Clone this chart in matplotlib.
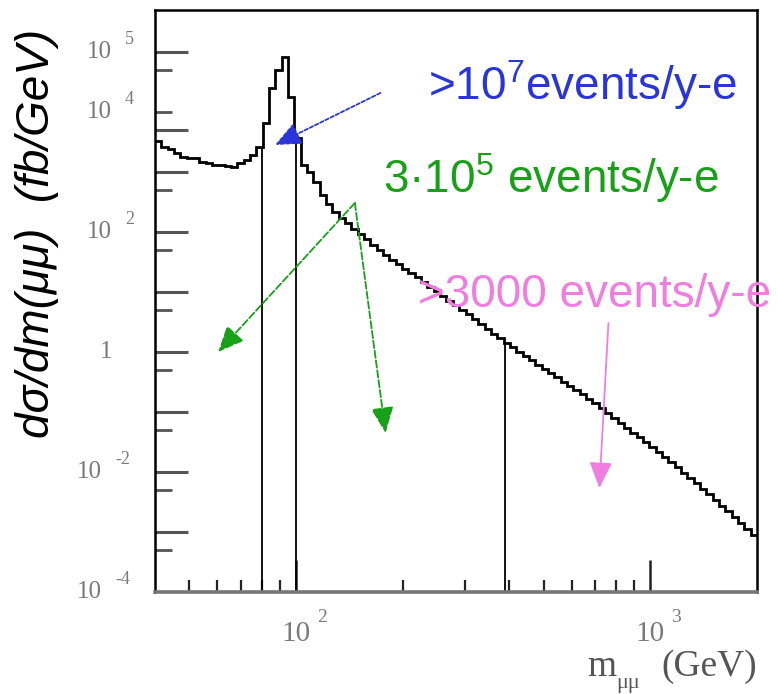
import numpy as np
import matplotlib.pyplot as plt

W, H = 778, 694

# Drell-Yan dimuon mass spectrum, log-binned from 40 to 2000 GeV
mass_lo, mass_hi = 40.0, 2000.0
dsigma = [
    3290, 2610, 2420, 2070, 1780, 1710, 1710, 1470, 1420, 1310, 1310, 1260,
    1210, 1420, 1580, 1920, 2610,
    6560, 25100, 50000, 82500, 17800, 3690,
    1310, 1000, 681, 414, 293, 215, 171, 141, 110, 92.6, 76.4, 60.7, 50.1,
    41.4, 34.1, 28.7, 24.2, 20.7, 17.8, 14.7, 12.1, 10.2, 8.58, 7.08, 6.07,
    5.01, 4.22, 3.55, 2.93, 2.42, 2.03, 1.71, 1.41, 1.19, 1.00, 0.858, 0.722,
    0.607, 0.521, 0.447, 0.376, 0.316, 0.271, 0.233, 0.196, 0.165, 0.141,
    0.117, 0.0962, 0.0794, 0.0656, 0.0541, 0.0455, 0.0376, 0.0316, 0.0261,
    0.0215, 0.0178, 0.0147, 0.0119, 0.00962, 0.00794, 0.00643, 0.00521,
    0.00422, 0.00341, 0.00271, 0.00220, 0.00178, 0.00141, 0.00112, 0.000891,
]
cut_masses = [80, 100, 390]

ytick_long = [1e5, 5e3, 1e3, 1e2, 10, 1, 0.1, 0.01, 1e-3]
ytick_short = [5e4, 1e4, 500, 50, 5, 0.5, 0.05, 0.005, 5e-4]
ytick_text = [(1e5, '10', '5'), (1e4, '10', '4'), (1e2, '10', '2'),
              (1, '1', ''), (1e-2, '10', '-2'), (1e-4, '10', '-4')]
xtick_major = [100, 1000]
xtick_minor = [50, 60, 70, 80, 90, 200, 300, 400, 500, 600, 700, 800, 900]
xtick_text = [(100, '2'), (1000, '3')]

blue, green, pink = '#2a35d8', '#18a018', '#f07ee0'

plt.rcParams['font.family'] = ['Liberation Sans', 'DejaVu Sans']
plt.rcParams['mathtext.fontset'] = 'custom'
plt.rcParams['mathtext.rm'] = 'Liberation Sans'

fig = plt.figure(figsize=(W / 100, H / 100), dpi=100)
ax = fig.add_axes([155 / W, 1 - 592 / H, (757 - 155) / W, (592 - 10) / H])

edges = np.geomspace(mass_lo, mass_hi, len(dsigma) + 1)
ax.stairs(dsigma, edges, baseline=None, color='black', lw=2.0)

ax.set_xscale('log')
ax.set_yscale('log')
ax.set_xlim(mass_lo, mass_hi)
ax.set_ylim(1e-4, 5e5)

# mass-window cut lines up to the histogram
idx = np.searchsorted(edges, cut_masses) - 1
ax.vlines(cut_masses, 1e-4, np.array(dsigma)[idx], color='black', lw=1.3)

ax.set_yticks(ytick_long)
ax.set_yticks(ytick_short, minor=True)
ax.set_xticks(xtick_major)
ax.set_xticks(xtick_minor, minor=True)
ax.tick_params(axis='y', which='major', direction='in', length=24, width=2.2,
               color='#555', labelleft=False)
ax.tick_params(axis='y', which='minor', direction='in', length=12, width=2.0,
               color='#555', labelleft=False)
ax.tick_params(axis='x', which='major', direction='in', length=23, width=1.8,
               color='#222', labelbottom=False)
ax.tick_params(axis='x', which='minor', direction='in', length=9, width=1.6,
               color='#222', labelbottom=False)
for s in ax.spines.values():
    s.set_linewidth(1.8)
ax.spines['bottom'].set_color('#777')
ax.spines['bottom'].set_linewidth(2.6)

# ROOT-style tick labels in a serif face
serif = 'Liberation Serif'
pt = 72 / 100
for v, base, exp in ytick_text:
    right = 112 if len(exp) < 2 else 102
    ax.annotate(base, xy=(0, v), xycoords=('axes fraction', 'data'),
                xytext=((right - 155) * pt, 0), textcoords='offset points',
                ha='right', va='center', fontsize=18, family=serif,
                color='#7a7a7a')
    if exp:
        ax.annotate(exp, xy=(0, v), xycoords=('axes fraction', 'data'),
                    xytext=((right + 13 - 155) * pt, 12 * pt),
                    textcoords='offset points', ha='left', va='center',
                    fontsize=13, family=serif, color='#7a7a7a')
for v, exp in xtick_text:
    ax.annotate('10', xy=(v, 0), xycoords=('data', 'axes fraction'),
                xytext=(0, -42 * pt), textcoords='offset points',
                ha='center', va='center', fontsize=21, family=serif,
                color='#7a7a7a')
    ax.annotate(exp, xy=(v, 0), xycoords=('data', 'axes fraction'),
                xytext=(21 * pt, -25 * pt), textcoords='offset points',
                ha='left', va='center', fontsize=14, family=serif,
                color='#7a7a7a')

fig.text(587 / W, 1 - 676 / H, 'm', fontsize=27, family=serif, color='#555',
         ha='left', va='baseline')
fig.text(616 / W, 1 - 688 / H, 'μμ', fontsize=16, family=serif, color='#555',
         ha='left', va='baseline')
fig.text(757 / W, 1 - 676 / H, '(GeV)', fontsize=27, family=serif,
         color='#555', ha='right', va='baseline')

fig.text(37 / W, 1 - 233 / H, 'dσ/dm(μμ)  (fb/GeV)', rotation=90,
         fontsize=33, style='italic', ha='center', va='center')

# event-rate annotations
fig.text(428 / W, 1 - 100 / H, r'>10$^{\mathrm{7}}$events/y-e', color=blue,
         fontsize=33, ha='left', va='baseline')
fig.text(383 / W, 1 - 193 / H, r'3·10$^{\mathrm{5}}$ events/y-e', color=green,
         fontsize=33, ha='left', va='baseline')
fig.text(418 / W, 1 - 307 / H, '>3000 events/y-e', color=pink, fontsize=33,
         ha='left', va='baseline')

def arrow(tail, tip, color, ls):
    ax.annotate('', xy=tip, xytext=tail, annotation_clip=False,
                arrowprops=dict(arrowstyle='-|>,head_length=0.8,head_width=0.35',
                                color=color, lw=1.3, linestyle=ls,
                                shrinkA=0, shrinkB=0, mutation_scale=20))

arrow((173, 2.07e4), (87.3, 2820), blue, (0, (2, 1.2)))
arrow((146.6, 304), (60.3, 1.0), green, (0, (4, 1.5)))
arrow((146.6, 304), (179, 0.0447), green, (0, (4, 1.5)))
arrow((761.6, 3.04), (718, 0.0054), pink, '-')

fig.savefig('out.png', dpi=100)
